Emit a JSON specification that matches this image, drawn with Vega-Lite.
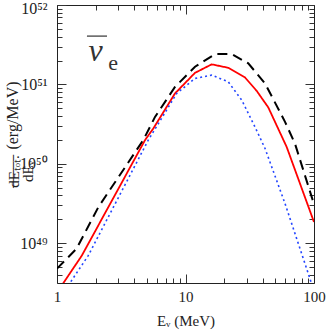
{
  "$schema": "https://vega.github.io/schema/vega-lite/v6.json",
  "width": 257,
  "height": 278,
  "autosize": "none",
  "padding": {"left": 57, "top": 5, "right": 13, "bottom": 47},
  "background": "white",
  "config": {
    "view": {"stroke": null},
    "font": "Liberation Serif",
    "axis": {
      "grid": false,
      "domainColor": "#222",
      "domainWidth": 1,
      "tickColor": "#333",
      "labelFont": "Liberation Serif",
      "labelColor": "#222",
      "titleFont": "Liberation Serif",
      "titleColor": "#222",
      "titleFontWeight": "normal"
    }
  },
  "data": {
    "values": [
      {"s": "dash", "E": 1.0, "dE": 4.8e48},
      {"s": "dash", "E": 1.42, "dE": 8.55e48},
      {"s": "dash", "E": 2.1, "dE": 2.86e49},
      {"s": "dash", "E": 4.69, "dE": 1.99e50},
      {"s": "dash", "E": 5.79, "dE": 3.9e50},
      {"s": "dash", "E": 8.28, "dE": 9.3e50},
      {"s": "dash", "E": 11.86, "dE": 1.67e51},
      {"s": "dash", "E": 16.97, "dE": 2.41e51},
      {"s": "dash", "E": 22.9, "dE": 2.41e51},
      {"s": "dash", "E": 30.8, "dE": 1.84e51},
      {"s": "dash", "E": 41.6, "dE": 1.03e51},
      {"s": "dash", "E": 59.5, "dE": 3.38e50},
      {"s": "dash", "E": 71.1, "dE": 1.8e50},
      {"s": "dash", "E": 100, "dE": 3.1e49},
      {"s": "solid", "E": 1.0, "dE": 2.4e48},
      {"s": "solid", "E": 1.56, "dE": 7.0e48},
      {"s": "solid", "E": 4.84, "dE": 1.99e50},
      {"s": "solid", "E": 5.62, "dE": 2.79e50},
      {"s": "solid", "E": 8.28, "dE": 7.7e50},
      {"s": "solid", "E": 11.86, "dE": 1.4e51},
      {"s": "solid", "E": 16.0, "dE": 1.79e51},
      {"s": "solid", "E": 21.5, "dE": 1.62e51},
      {"s": "solid", "E": 29.1, "dE": 1.22e51},
      {"s": "solid", "E": 35.8, "dE": 8.3e50},
      {"s": "solid", "E": 44.1, "dE": 5.13e50},
      {"s": "solid", "E": 61.3, "dE": 1.63e50},
      {"s": "solid", "E": 100, "dE": 1.85e49},
      {"s": "dot", "E": 1.0, "dE": 1.8e48},
      {"s": "dot", "E": 1.75, "dE": 7.0e48},
      {"s": "dot", "E": 5.13, "dE": 1.99e50},
      {"s": "dot", "E": 6.15, "dE": 3.22e50},
      {"s": "dot", "E": 8.54, "dE": 7.7e50},
      {"s": "dot", "E": 11.86, "dE": 1.19e51},
      {"s": "dot", "E": 16.0, "dE": 1.31e51},
      {"s": "dot", "E": 21.5, "dE": 1.08e51},
      {"s": "dot", "E": 27.4, "dE": 6.34e50},
      {"s": "dot", "E": 34.7, "dE": 2.92e50},
      {"s": "dot", "E": 41.6, "dE": 1.56e50},
      {"s": "dot", "E": 59.5, "dE": 3.16e49},
      {"s": "dot", "E": 90.3, "dE": 4.14e48},
      {"s": "dot", "E": 100, "dE": 2.5e48}
    ]
  },
  "layer": [
    {
      "mark": {"type": "line", "clip": true},
      "encoding": {
        "x": {
          "field": "E", "type": "quantitative",
          "scale": {"type": "log", "domain": [1, 100], "nice": false},
          "axis": {
            "orient": "bottom",
            "values": [1, 2, 3, 4, 5, 6, 7, 8, 9, 10, 20, 30, 40, 50, 60, 70, 80, 90, 100],
            "tickSize": {"condition": {"test": "abs(log(datum.value)/LN10 - round(log(datum.value)/LN10)) < 0.001", "value": -9}, "value": -5},
            "tickColor": "#333",
            "labelExpr": "datum.value == 1 ? '1' : datum.value == 10 ? '10' : datum.value == 100 ? '100' : ''",
            "labelFontSize": 15,
            "labelColor": "#222",
            "labelPadding": 15,
            "labelFlush": false,
            "labelOverlap": false,
            "title": "Eᵥ (MeV)",
            "titleFontSize": 15,
            "titleColor": "#222",
            "titleX": 128.5,
            "titleY": 37,
            "titleBaseline": "middle",
            "titleAlign": "center"
          }
        },
        "y": {
          "field": "dE", "type": "quantitative",
          "scale": {"type": "log", "domain": [3.1623e48, 1e52], "nice": false},
          "axis": {
            "orient": "left",
            "values": [4e48, 5e48, 6e48, 7e48, 8e48, 9e48, 1e49, 2e49, 3e49, 4e49, 5e49, 6e49, 7e49, 8e49, 9e49, 1e50, 2e50, 3e50, 4e50, 5e50, 6e50, 7e50, 8e50, 9e50, 1e51, 2e51, 3e51, 4e51, 5e51, 6e51, 7e51, 8e51, 9e51, 1e52],
            "tickSize": {"condition": {"test": "abs(log(datum.value)/LN10 - round(log(datum.value)/LN10)) < 0.001", "value": -9}, "value": -5},
            "tickColor": "#333",
            "labelExpr": "abs(log(datum.value)/LN10 - round(log(datum.value)/LN10)) < 0.001 ? (round(log(datum.value)/LN10) == 49 ? '10⁴⁹' : round(log(datum.value)/LN10) == 50 ? '10⁵⁰' : round(log(datum.value)/LN10) == 51 ? '10⁵¹' : '10⁵²') : ''",
            "labelFontSize": 16,
            "labelColor": "#222",
            "labelPadding": 19,
            "labelFlush": true,
            "labelFlushOffset": 5,
            "labelOverlap": false,
            "title": ["dEₜₒₜ.", "dEᵥ"],
            "titleFontSize": 15,
            "titleColor": "#222",
            "titleLineHeight": 14,
            "titleAngle": 270,
            "titleX": -44,
            "titleY": 166,
            "titleAlign": "center",
            "titleBaseline": "middle"
          }
        },
        "color": {"field": "s", "type": "nominal", "scale": {"domain": ["dash", "solid", "dot"], "range": ["#000000", "#ff0000", "#2244ff"]}, "legend": null},
        "strokeDash": {"field": "s", "type": "nominal", "scale": {"domain": ["dash", "solid", "dot"], "range": [[10, 6], [1, 0], [2, 3]]}, "legend": null},
        "strokeWidth": {"field": "s", "type": "nominal", "scale": {"domain": ["dash", "solid", "dot"], "range": [2, 1.6, 2.2]}, "legend": null}
      }
    },
    {
      "mark": {"type": "line", "opacity": 0},
      "encoding": {
        "x": {
          "field": "E", "type": "quantitative",
          "scale": {"type": "log", "domain": [1, 100], "nice": false},
          "axis": {
            "orient": "top",
            "values": [1, 2, 3, 4, 5, 6, 7, 8, 9, 10, 20, 30, 40, 50, 60, 70, 80, 90, 100],
            "tickSize": {"condition": {"test": "abs(log(datum.value)/LN10 - round(log(datum.value)/LN10)) < 0.001", "value": -9}, "value": -5},
            "tickColor": "#333",
            "labels": false,
            "title": "─────",
            "titleFont": "DejaVu Sans Mono",
            "titleFontSize": 11,
            "titleColor": "#222",
            "titleAngle": 270,
            "titleX": -44,
            "titleY": 166,
            "titleAlign": "center",
            "titleBaseline": "middle"
          }
        },
        "y": {
          "field": "dE", "type": "quantitative",
          "scale": {"type": "log", "domain": [3.1623e48, 1e52], "nice": false},
          "axis": {
            "orient": "right",
            "values": [4e48, 5e48, 6e48, 7e48, 8e48, 9e48, 1e49, 2e49, 3e49, 4e49, 5e49, 6e49, 7e49, 8e49, 9e49, 1e50, 2e50, 3e50, 4e50, 5e50, 6e50, 7e50, 8e50, 9e50, 1e51, 2e51, 3e51, 4e51, 5e51, 6e51, 7e51, 8e51, 9e51, 1e52],
            "tickSize": {"condition": {"test": "abs(log(datum.value)/LN10 - round(log(datum.value)/LN10)) < 0.001", "value": -9}, "value": -5},
            "tickColor": "#333",
            "labels": false,
            "title": "(erg/MeV)",
            "titleFontSize": 16,
            "titleColor": "#222",
            "titleAngle": 270,
            "titleX": -301.5,
            "titleY": 110,
            "titleAlign": "center",
            "titleBaseline": "middle"
          }
        }
      }
    },
    {
      "data": {"values": [{}]},
      "mark": {"type": "rule", "color": "#333", "strokeWidth": 1.2},
      "encoding": {
        "x": {"datum": 1.71, "type": "quantitative", "axis": null},
        "x2": {"datum": 2.45},
        "y": {"datum": 4.06e51, "type": "quantitative", "axis": null}
      }
    },
    {
      "data": {"values": [{}]},
      "mark": {"type": "text", "text": "ν", "font": "Liberation Serif", "fontStyle": "italic", "fontSize": 32, "align": "center", "baseline": "middle", "color": "#333"},
      "encoding": {
        "x": {"datum": 2.0, "type": "quantitative", "axis": null},
        "y": {"datum": 2.6e51, "type": "quantitative", "axis": null}
      }
    },
    {
      "data": {"values": [{}]},
      "mark": {"type": "text", "text": "e", "font": "Liberation Serif", "fontSize": 22, "align": "center", "baseline": "middle", "color": "#333"},
      "encoding": {
        "x": {"datum": 2.73, "type": "quantitative", "axis": null},
        "y": {"datum": 1.86e51, "type": "quantitative", "axis": null}
      }
    }
  ],
  "resolve": {"axis": {"x": "independent", "y": "independent"}}
}
